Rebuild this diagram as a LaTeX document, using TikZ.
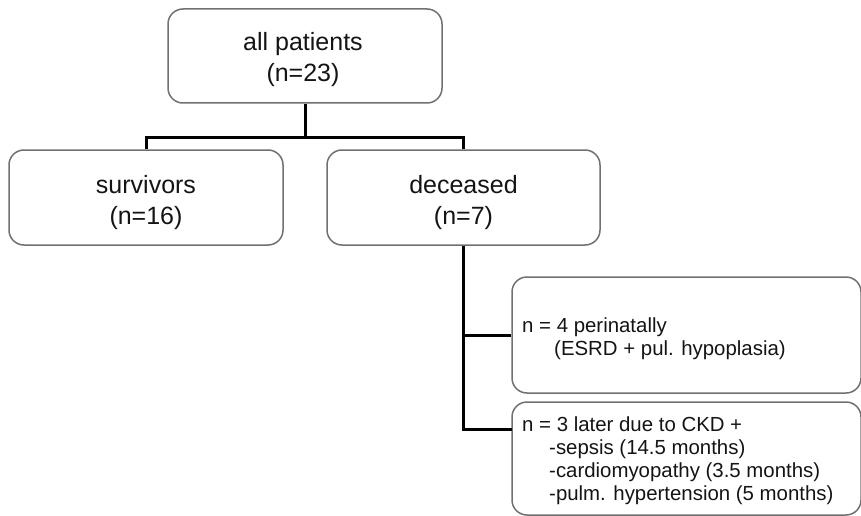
\documentclass[tikz,border=0pt]{standalone}
\usepackage{fontspec}
\setmainfont{Liberation Sans}
\begin{document}
\begin{tikzpicture}[x=1pt,y=-1pt,
  box/.style={draw=boxgray, line width=1.5pt, rounded corners=15pt, inner sep=0pt},
  bigtext/.style={inner sep=0pt, align=center, text=txt, font=\fontsize{25}{31}\selectfont},
  smalltext/.style={inner sep=0pt, align=left, text=txt, font=\fontsize{20.4}{23}\selectfont},
  conn/.style={draw=black, line width=3pt, line join=miter}]
\definecolor{boxgray}{HTML}{707070}
\definecolor{txt}{HTML}{141414}
\useasboundingbox (0,0) rectangle (861,516);
% boxes
\node[box, minimum width=274pt, minimum height=94pt] (top) at (305,56) {};
\node[box, minimum width=274pt, minimum height=95pt] (surv) at (146,197.5) {};
\node[box, minimum width=273pt, minimum height=95pt] (dec) at (463.5,197.5) {};
\node[box, minimum width=349pt, minimum height=116pt] (b1) at (686.5,335) {};
\node[box, minimum width=349pt, minimum height=113pt] (b2) at (686.5,458.5) {};
% texts
\node[bigtext, anchor=north] (ttop) at (303,32) {all patients\\(n=23)};
\node[bigtext, anchor=north] (tsurv) at (146,175) {survivors\\(n=16)};
\node[bigtext, anchor=north] (tdec) at (463.5,175) {deceased\\(n=7)};
\node[smalltext, anchor=north west] (tb1) at (522,318) {n = 4 perinatally\\\hspace*{32pt}(ESRD + pul. hypoplasia)};
\node[smalltext, anchor=north west] (tb2) at (522,416.5) {n = 3 later due to CKD +\\\hspace*{27pt}-sepsis (14.5 months)\\\hspace*{27pt}-cardiomyopathy (3.5 months)\\\hspace*{27pt}-pulm. hypertension (5 months)};
% connectors
\coordinate (j1) at (305,137);
\coordinate (b2in) at (512,429);
\draw[conn] (top.south) -- (j1);
\draw[conn] (surv.north) -- (surv.north |- j1) -- (dec.north |- j1) -- (dec.north);
\draw[conn] (dec.south) |- (b2in);
\draw[conn] (dec.south |- b1.west) -- (b1.west);
\end{tikzpicture}
\end{document}
